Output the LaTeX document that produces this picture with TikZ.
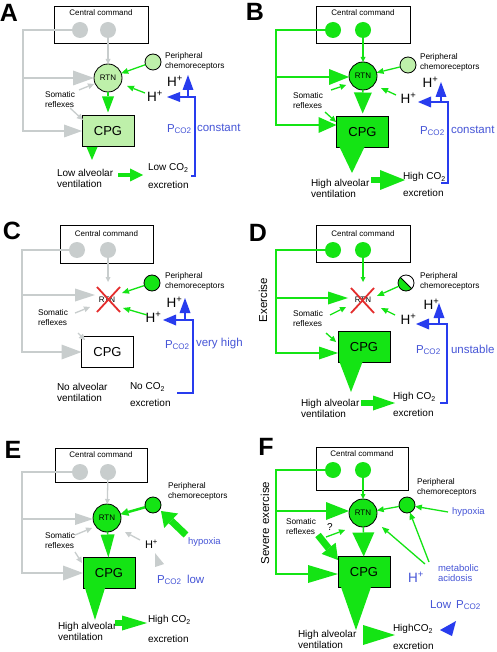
\documentclass[tikz,border=0pt]{standalone}
\usepackage{fontspec}
\setmainfont{Liberation Sans}
\usetikzlibrary{arrows.meta,calc}
\definecolor{gr}{RGB}{200,205,205}
\definecolor{bg}{RGB}{20,228,20}
\definecolor{lg}{RGB}{190,240,170}
\definecolor{bl}{RGB}{40,60,238}
\definecolor{tb}{RGB}{70,85,215}
\definecolor{rxc}{RGB}{228,45,45}
\tikzset{
 every node/.style={inner sep=0pt,outer sep=0pt},
 ah/.style 2 args={-{Triangle[length=#1pt,width=#2pt,line width=0pt]}},
 gl/.style={draw=gr,line width=1.3pt},
 gn/.style={draw=bg,line width=1.3pt},
 bln/.style={draw=bl,line width=1.6pt},
 ccbox/.style={draw,line width=0.8pt,minimum width=94pt,minimum height=37pt},
 cctext/.style={font=\fontsize{8}{9}\selectfont},
 ball/.style={circle,minimum size=16pt},
 rtn/.style={circle,minimum size=28pt,font=\fontsize{8}{9}\selectfont},
 cpg/.style={draw,line width=0.8pt,minimum width=52pt,minimum height=31pt,font=\fontsize{13}{14}\selectfont},
 sm/.style={font=\fontsize{8.3}{10}\selectfont,align=left,anchor=west},
 md/.style={font=\fontsize{10}{11}\selectfont,align=left,anchor=west},
 hp/.style={font=\fontsize{13.5}{14}\selectfont},
 pc/.style={font=\fontsize{11.5}{12}\selectfont,text=tb,anchor=west},
 lab/.style={font=\fontsize{25}{25}\selectfont\bfseries},
 rx/.style={draw=rxc,line width=1.8pt},
 ol/.style={draw,line width=0.8pt},
}
\begin{document}
\begin{tikzpicture}[x=1pt,y=-1pt]
\useasboundingbox (0,0) rectangle (496,652);
\fill[white] (0,0) rectangle (496,652);

% ================= A =================
\node[lab] at (9,13) {A};
\node[ccbox] (ccA) at (101,24.5) {};
\node[cctext] at (101,13) {Central command};
\node[ball,fill=gr] (a1) at (80,30) {};
\node[ball,fill=gr] (a2) at (108,30) {};
\node[rtn,ol,fill=lg] (rA) at (108,78) {RTN};
\node[ball,ol,fill=lg] (pA) at (153,62) {};
\node[sm] at (165,61) {Peripheral\\chemoreceptors};
\node[hp] (huA) at (175,81.5) {H\textsuperscript{+}};
\node[hp] (hlA) at (155,96.5) {H\textsuperscript{+}};
\node[sm] (sA) at (45,100) {Somatic\\reflexes};
\node[cpg,fill=lg] (cA) at (108,131) {CPG};
\node[md] (vA) at (57,178) {Low alveolar\\ventilation};
\node[md] (xA1) at (148,168) {Low CO\textsubscript{2}};
\node[md] (xA2) at (148,185) {excretion};
\node[pc] at (167,129) {P\textsubscript{CO2}};
\node[pc] at (197,128) {constant};
\coordinate (kA) at (23,30);
\coordinate (jA) at (23,78);
\draw[gl,ah={18}{13}] (a1) -- (kA) |- (cA.west);
\draw[gl,ah={21}{15}] (jA) -- (rA.west);
\draw[gl,ah={5}{5}] (a2) -- (rA);
\draw[gl,ah={6}{6}] (79,90) -- (94,84);
\draw[gl,ah={6}{6}] (70,108) -- (83,120);
\draw[gn,ah={7}{6}] (pA) -- (rA);
\draw[gn,ah={7}{6}] (145,93) -- (127,86);
\draw[gn,line width=1.5pt,ah={16}{12},shorten >=3pt] (rA) -- (cA);
\draw[gn,ah={13}{11}] (92,147) -- (92,160);
\draw[gn,line width=4pt,ah={13}{13}] (118,175) -- (143,175);
\draw[bln,ah={13}{10}] (191,176) -- (195,176) -- (195,97) -- (167,97);
\draw[bln,ah={15}{11}] (188,97) -- (188,75);

% ================= B =================
\node[lab] at (255,12) {B};
\node[ccbox] (ccB) at (363,24.5) {};
\node[cctext] at (363,13) {Central command};
\node[ball,fill=bg] (b1) at (333,30) {};
\node[ball,fill=bg] (b2) at (363,30) {};
\node[rtn,ol,fill=bg] (rB) at (363,76) {RTN};
\node[ball,ol,fill=lg] (pB) at (408,65) {};
\node[sm] at (420,62) {Peripheral\\chemoreceptors};
\node[hp] (huB) at (430.5,82.5) {H\textsuperscript{+}};
\node[hp] (hlB) at (408.5,98) {H\textsuperscript{+}};
\node[sm] (sB) at (293,101) {Somatic\\reflexes};
\node[cpg,fill=bg] (cB) at (362.5,132) {CPG};
\node[md] (vB) at (311,188) {High alveolar\\ventilation};
\node[md] (xB1) at (403,177) {High CO\textsubscript{2}};
\node[md] (xB2) at (403,193) {excretion};
\node[pc] at (420,131) {P\textsubscript{CO2}};
\node[pc] at (451,130) {constant};
\coordinate (kB) at (276,30);
\draw[gn,ah={18}{16}] (b1) -- (kB) |- (336.5,125);
\draw[gn,ah={20}{16}] (276,77) -- (349,77);
\draw[gn,ah={5}{5}] (b2) -- (rB);
\draw[gn,ah={6}{6}] (331,90) -- (346,85);
\draw[gn,ah={6}{6}] (325,112) -- (336,122);
\draw[gn,ah={7}{6}] (pB) -- (rB);
\draw[gn,ah={7}{6}] (396,95) -- (381,88);
\draw[gn,line width=1.5pt,ah={21}{18},shorten >=3pt] (rB) -- (cB);
\draw[gn,ah={26}{25}] (352,147) -- (352,173);
\draw[gn,line width=6pt,ah={25}{20}] (371,180) -- (405,180);
\draw[bln,ah={13}{11}] (441,183) -- (448,183) -- (448,102) -- (418,102);
\draw[bln,ah={15}{11}] (441,102) -- (441,82);

% ================= C =================
\node[lab] at (12,231) {C};
\node[ccbox,minimum width=93pt,minimum height=38pt] (ccC) at (106.5,244) {};
\node[cctext] at (106.5,234) {Central command};
\node[ball,fill=gr] (c1) at (77,250) {};
\node[ball,fill=gr] (c2) at (108,250) {};
\node[rtn] (rC) at (107,300) {RTN};
\draw[rx] (97,287) -- (120,312);
\draw[rx] (120,287) -- (97,312);
\node[ball,ol,fill=bg] (pC) at (152,283) {};
\node[sm] at (165,281) {Peripheral\\chemoreceptors};
\node[hp] (huC) at (174.5,302.5) {H\textsuperscript{+}};
\node[hp] (hlC) at (153.5,317.5) {H\textsuperscript{+}};
\node[sm] (sC) at (38,318) {Somatic\\reflexes};
\node[cpg,fill=white] (cC) at (107.5,352) {CPG};
\node[md] (vC) at (57,392) {No alveolar\\ventilation};
\node[md] (xC1) at (130,387) {No CO\textsubscript{2}};
\node[md] (xC2) at (130,403) {excretion};
\node[pc] at (165,345) {P\textsubscript{CO2}};
\node[pc] at (196,344) {very high};
\draw[gl,ah={20}{15}] (c1) -- (22,250) |- (cC.west);
\draw[gl,ah={20}{13}] (22,295) -- (95,295);
\draw[gl,ah={5}{5}] (c2) -- (108,282);
\draw[gl,ah={6}{6}] (75,313) -- (90,307);
\draw[gl,ah={6}{6}] (78,333) -- (85,340);
\draw[gn,ah={7}{6}] (pC) -- (122,293);
\draw[gn,ah={7}{6}] (147,315) -- (123,308);
\draw[bln,ah={13}{11}] (177,393) -- (193,393) -- (193,320) -- (163,320);
\draw[bln,ah={15}{11}] (185,320) -- (185,298);

% ================= D =================
\node[lab] at (258,233) {D};
\node[ccbox] (ccD) at (363,243.5) {};
\node[cctext] at (363,234) {Central command};
\node[ball,fill=bg] (d1) at (333,250) {};
\node[ball,fill=bg] (d2) at (363,250) {};
\node[rtn] (rD) at (363,300) {RTN};
\draw[rx] (351,288) -- (374,313);
\draw[rx] (374,288) -- (351,313);
\node[ball,fill=white] (pD) at (406,283) {};
\begin{scope}
\clip (pD.center) circle (8pt);
\fill[bg] ($(pD.center)+(-10,-10)$) -- ($(pD.center)+(10,10)$) -- ($(pD.center)+(-10,10)$) -- cycle;
\end{scope}
\draw[line width=0.8pt] ($(pD.center)+(-5.66,-5.66)$) -- ($(pD.center)+(5.66,5.66)$);
\draw[line width=0.8pt] (pD.center) circle (8pt);
\node[sm] at (420,281) {Peripheral\\chemoreceptors};
\node[hp] (huD) at (431.5,304) {H\textsuperscript{+}};
\node[hp] (hlD) at (408.5,319) {H\textsuperscript{+}};
\node[sm] (sD) at (293,319) {Somatic\\reflexes};
\node[font=\fontsize{11.5}{12}\selectfont,rotate=90] at (263,300) {Exercise};
\node[cpg,fill=bg] (cD) at (364,347) {CPG};
\node[md] (vD) at (301,408) {High alveolar\\ventilation};
\node[md] (xD1) at (393,397) {High CO\textsubscript{2}};
\node[md] (xD2) at (393,413) {excretion};
\node[pc] at (416,350) {P\textsubscript{CO2}};
\node[pc] at (451,349) {unstable};
\draw[gn,ah={19}{13}] (d1) -- (276,250) |- (338,353);
\draw[gn,ah={20}{13}] (276,298) -- (348,298);
\draw[gn,ah={5}{5}] (d2) -- (363,282);
\draw[gn,ah={6}{6}] (330,315) -- (346,307);
\draw[gn,ah={6}{6}] (326,333) -- (336,342);
\draw[gn,ah={7}{6}] (pD) -- (377,296);
\draw[gn,ah={7}{6}] (395,315) -- (381,308);
\draw[gn,ah={30}{23}] (351,362) -- (351,392);
\draw[gn,line width=6pt,ah={22}{15}] (361,403) -- (395,403);
\draw[bln,ah={13}{11}] (440,403) -- (447,403) -- (447,324) -- (416,324);
\draw[bln,ah={15}{11}] (439,324) -- (439,303);

% ================= E =================
\node[lab] at (13,450) {E};
\node[ccbox,minimum width=92pt,minimum height=34pt] (ccE) at (101,465) {};
\node[cctext] at (101,455) {Central command};
\node[ball,fill=gr] (e1) at (80,472) {};
\node[ball,fill=gr] (e2) at (108,472) {};
\node[rtn,ol,fill=bg] (rE) at (107,518) {RTN};
\node[ball,ol,fill=bg] (pE) at (153,505) {};
\node[sm] at (168,491) {Peripheral\\chemoreceptors};
\node[font=\fontsize{11}{12}\selectfont] (hE) at (151.5,544) {H\textsuperscript{+}};
\node[font=\fontsize{9.5}{10}\selectfont,text=tb,anchor=west] (hyE) at (188,542) {hypoxia};
\node[sm] (sE) at (45,541) {Somatic\\reflexes};
\node[cpg,fill=bg] (cE) at (109,573) {CPG};
\node[md] (vE) at (58,631) {High alveolar\\ventilation};
\node[md] (xE1) at (148,620) {High CO\textsubscript{2}};
\node[md] (xE2) at (148,639) {excretion};
\node[pc] at (157,580) {P\textsubscript{CO2}};
\node[pc] at (187,579) {low};
\draw[gl,ah={20}{15}] (e1) -- (22,472) |- (cE.west);
\draw[gl,ah={18}{12}] (22,519) -- (93,519);
\draw[gl,ah={5}{5}] (e2) -- (rE);
\draw[gl,ah={6}{6}] (75,535) -- (92,528);
\draw[gl,ah={6}{6}] (75,552) -- (82,563);
\draw[gn,line width=2.5pt,ah={8}{8}] (pE) -- (rE);
\draw[gn,line width=7pt,ah={14}{20}] (186,535) -- (161,511);
\draw[gl,ah={6}{6}] (140,540) -- (125,532);
\fill[gr] (155,553) -- (155,567) -- (164,564) -- cycle;
\draw[gn,line width=1.5pt,ah={23}{14}] (rE) -- (cE);
\draw[gn,ah={32}{20}] (95,588) -- (95,620);
\draw[gn,line width=6pt,ah={25}{15}] (115,623) -- (147,623);

% ================= F =================
\node[lab] at (266,447) {F};
\node[ccbox,minimum width=92pt,minimum height=43pt] (ccF) at (362,468.5) {};
\node[cctext] at (362,454) {Central command};
\node[ball,fill=bg] (f1) at (333,470) {};
\node[ball,fill=bg] (f2) at (363,470) {};
\node[font=\fontsize{11.5}{12}\selectfont,rotate=90] at (265,523) {Severe exercise};
\node[rtn,ol,fill=bg] (rF) at (363,513) {RTN};
\node[ball,ol,fill=bg] (pF) at (407,505) {};
\node[sm] at (417,487) {Peripheral\\chemoreceptors};
\node[font=\fontsize{9.5}{10}\selectfont,text=tb,anchor=west] (hyF) at (452,512) {hypoxia};
\node[font=\fontsize{13.5}{14}\selectfont,text=tb] (hF) at (416,577) {H\textsuperscript{+}};
\node[font=\fontsize{9.5}{10.5}\selectfont,text=tb,align=left,anchor=west] (maF) at (438,573) {metabolic\\acidosis};
\node[sm] (sF) at (286,527) {Somatic\\reflexes};
\node[font=\fontsize{10}{11}\selectfont] at (330,527) {?};
\node[cpg,fill=bg] (cF) at (364,572) {CPG};
\node[md] (vF) at (298,639) {High alveolar\\ventilation};
\node[md] (xF1) at (393,629) {HighCO\textsubscript{2}};
\node[md] (xF2) at (393,646) {excretion};
\node[font=\fontsize{11.5}{12}\selectfont,text=tb,anchor=west] at (430,605) {Low\hspace{5pt}P\textsubscript{CO2}};
\fill[bl] (440,630) -- (456,621) -- (452,636) -- cycle;
\draw[gn,ah={30}{18}] (f1) -- (276,470) |- (338,574);
\draw[gn,ah={23}{18}] (276,511) -- (349,511);
\draw[gn,ah={5}{5}] (f2) -- (rF);
\draw[gn,ah={7}{6}] (pF) -- (rF);
\draw[gn,ah={7}{6}] (448,512) -- (pF);
\draw[gn,ah={7}{6}] (429,562) -- (pF);
\draw[gn,ah={7}{6}] (425,564) -- (382,527);
\draw[gn,ah={6}{6}] (326,537) -- (345,530);
\draw[gn,line width=7pt,ah={15}{18}] (318,535) -- (338,560);
\draw[gn,line width=1.5pt,ah={24}{22}] (rF) -- (cF);
\draw[gn,ah={43}{30}] (356,587) -- (356,630);
\draw[gn,ah={32}{20}] (363,635) -- (395,635);
\end{tikzpicture}
\end{document}
